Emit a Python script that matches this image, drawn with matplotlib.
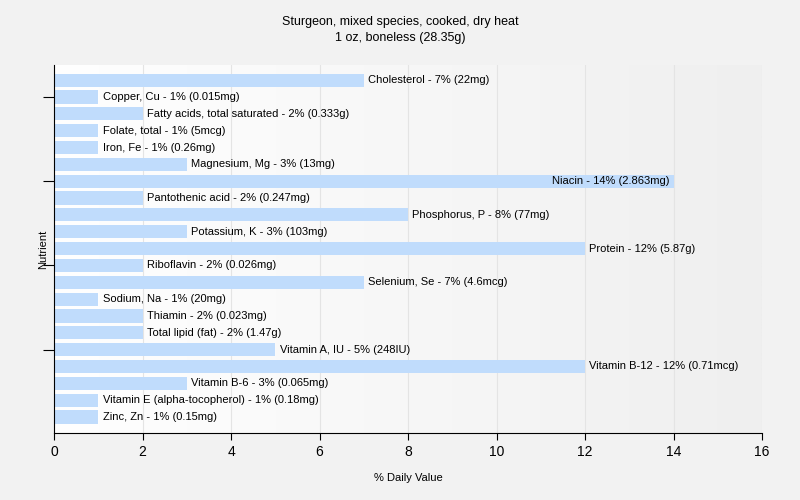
import numpy as np
import matplotlib.pyplot as plt
from matplotlib.colors import LinearSegmentedColormap

plt.rcParams['font.family'] = ['Liberation Sans', 'DejaVu Sans']

# Nutrient data (% daily value and amount text)
nutrients = ['Cholesterol', 'Copper, Cu', 'Fatty acids, total saturated', 'Folate, total',
             'Iron, Fe', 'Magnesium, Mg', 'Niacin', 'Pantothenic acid', 'Phosphorus, P',
             'Potassium, K', 'Protein', 'Riboflavin', 'Selenium, Se', 'Sodium, Na',
             'Thiamin', 'Total lipid (fat)', 'Vitamin A, IU', 'Vitamin B-12',
             'Vitamin B-6', 'Vitamin E (alpha-tocopherol)', 'Zinc, Zn']
values = [7, 1, 2, 1, 1, 3, 14, 2, 8, 3, 12, 2, 7, 1, 2, 2, 5, 12, 3, 1, 1]
amounts = ['22mg', '0.015mg', '0.333g', '5mcg', '0.26mg', '13mg', '2.863mg', '0.247mg',
           '77mg', '103mg', '5.87g', '0.026mg', '4.6mcg', '20mg', '0.023mg', '1.47g',
           '248IU', '0.71mcg', '0.065mg', '0.18mg', '0.15mg']

fig = plt.figure(figsize=(8, 5), dpi=100, facecolor='#f2f2f2')
ax = fig.add_axes([0.0675, 0.134, 0.885, 0.736])

xmax = 16
n = len(nutrients)
y = np.arange(n)
ylo, yhi = n - 1 + 0.95, -0.9

# background gradient of plot area
grad = np.linspace(0, 1, 256).reshape(1, -1)
ax.imshow(grad, extent=[0, xmax, ylo, yhi], aspect='auto',
          cmap=LinearSegmentedColormap.from_list('g', ['#ffffff', '#efefef']), zorder=0)

for gx in range(2, xmax + 1, 2):
    ax.axvline(gx, color='#e4e4e4', lw=0.8, zorder=1)

ax.barh(y, values, height=0.78, color='#c0dcfc', zorder=2)

for i, (name, v, a) in enumerate(zip(nutrients, values, amounts)):
    label = f'{name} - {v}% ({a})'
    if v >= 13:
        ax.text(v - 0.1, i, label, ha='right', va='center', fontsize=8, zorder=3)
    else:
        ax.text(v + 0.1, i, label, ha='left', va='center', fontsize=8, zorder=3)

ax.set_xlim(0, xmax)
ax.set_ylim(ylo, yhi)
ax.set_xticks(range(0, xmax + 1, 2))
ax.tick_params(axis='x', labelsize=10, length=5)
ax.set_yticks([1, 6, 11, 16])
ax.set_yticklabels([])
ax.tick_params(axis='y', length=8)

for s in ['top', 'right']:
    ax.spines[s].set_visible(False)

ax.set_xlabel('% Daily Value', fontsize=8, labelpad=10)
ax.set_ylabel('Nutrient', fontsize=8)
ax.yaxis.set_label_coords(-0.008, 0.5)
fig.suptitle('Sturgeon, mixed species, cooked, dry heat\n1 oz, boneless (28.35g)',
             fontsize=9, y=0.968, va='top', linespacing=1.45)

fig.savefig('out.png', dpi=100, facecolor=fig.get_facecolor())
